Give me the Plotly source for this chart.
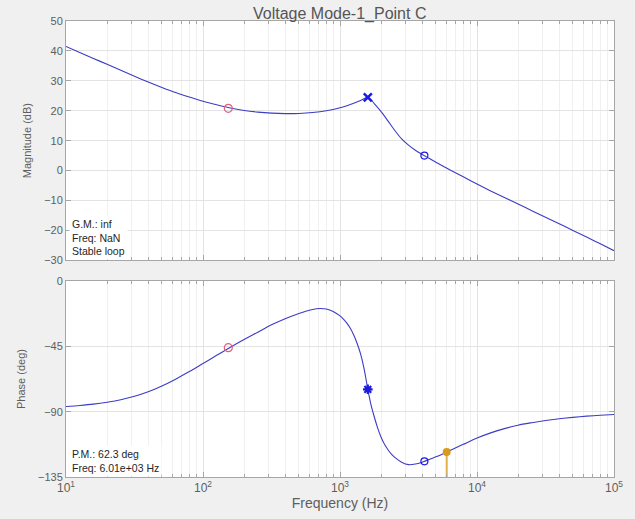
import plotly.graph_objects as go

# ---- data ----
mag_freq = [10, 12.59, 15.85, 19.95, 25.12, 31.62, 39.81, 50.12, 63.10, 79.43,
            100, 125.9, 158.5, 199.5, 251.2, 316.2, 398.1, 501.2, 631.0, 794.3,
            1000, 1122, 1259, 1413, 1596, 1778, 1995, 2239, 2512, 2818, 3162, 3548, 3981, 4467,
            5012, 5623, 6310, 7943, 10000, 12590, 15850, 19950, 25120, 31620, 39810, 50120,
            63100, 79430, 100000]
mag_db = [41.5, 39.5, 37.5, 35.5, 33.5, 31.5, 29.6, 27.8, 26.1, 24.6,
          23.2, 22.0, 20.9, 20.1, 19.55, 19.2, 19.05, 19.1, 19.4, 20.0,
          21.0, 21.7, 22.5, 23.4, 24.5, 22.4, 19.7, 16.6, 13.4, 10.6, 8.5, 6.8, 5.4, 4.1,
          2.8, 1.5, 0.3, -2.1, -4.5, -6.8, -9.0, -11.2, -13.4, -15.6, -17.8, -20.0,
          -22.2, -24.5, -26.8]

ph_freq = [10, 12.59, 15.85, 19.95, 25.12, 31.62, 39.81, 50.12, 63.10, 79.43,
           100, 125.9, 158.5, 199.5, 251.2, 316.2, 398.1, 501.2, 562.3, 631.0, 707.9, 794.3, 891.3,
           1000, 1059, 1122, 1189, 1259, 1334, 1413, 1496, 1596, 1679, 1778, 1884, 1995, 2113, 2239, 2371,
           2512, 2818, 3162, 3548, 3981, 4467, 5012, 5623, 6310, 7943,
           10000, 12590, 15850, 19950, 25120, 31620, 39810, 50120, 63100, 79430, 100000]
ph_deg = [-86.4, -85.7, -84.8, -83.5, -81.8, -79.4, -76.3, -72.3, -67.6, -62.4,
          -56.8, -51.2, -45.6, -40.3, -35.3, -30.2, -26.0, -22.4, -20.8, -19.6, -18.9, -19.3, -21.0,
          -24.0, -26.2, -29.0, -32.6, -37.2, -43.0, -50.2, -60.0, -74.6, -84.8, -93.5, -101.3, -107.6, -112.5, -116.2, -119.2,
          -121.5, -124.8, -126.5, -126.1, -124.8, -123.0, -121.1, -119.1, -116.9, -112.5,
          -108.2, -104.6, -101.7, -99.3, -97.6, -96.1, -94.9, -93.9, -93.1, -92.5, -92.0]

# markers
zero_f, zero_mag, zero_ph = 153, 20.8, -45.9
pole_f, pole_mag, pole_ph = 1596, 24.5, -74.6
circ_f, circ_mag, circ_ph = 4130, 5.0, -124.2
pm_f, pm_ph = 6010, -117.7

mag_ticks = [50, 40, 30, 20, 10, 0, -10, -20, -30]
ph_ticks = [0, -45, -90, -135]
x_ticks = [10, 100, 1000, 10000, 100000]
x_ticktext = ["10<sup>1</sup>", "10<sup>2</sup>", "10<sup>3</sup>", "10<sup>4</sup>", "10<sup>5</sup>"]
minor_vals = [m * d for d in [10, 100, 1000, 10000] for m in range(2, 10)]

title = "Voltage Mode-1_Point C"
gm_text = "G.M.: inf<br>Freq: NaN<br>Stable loop"
pm_text = "P.M.: 62.3 deg<br>Freq: 6.01e+03 Hz"

LINE = "#3c3cc6"
RED = "#e0607a"
BLUE = "#1a1ae0"
ORANGE = "#d99a1b"
STEM = "#e0b04a"
FONT = "Liberation Sans, Arial, sans-serif"
TXT = "#5e5e5e"

fig = go.Figure()

fig.add_trace(go.Scatter(x=mag_freq, y=mag_db, mode="lines",
                         line=dict(color=LINE, width=1.1, shape="spline", smoothing=0.8),
                         xaxis="x", yaxis="y", showlegend=False))
fig.add_trace(go.Scatter(x=ph_freq, y=ph_deg, mode="lines",
                         line=dict(color=LINE, width=1.1, shape="spline", smoothing=0.8),
                         xaxis="x2", yaxis="y2", showlegend=False))

# stem at phase margin
fig.add_trace(go.Scatter(x=[pm_f, pm_f], y=[pm_ph, -135], mode="lines",
                         line=dict(color=STEM, width=2), xaxis="x2", yaxis="y2", showlegend=False))

# magnitude markers
fig.add_trace(go.Scatter(x=[zero_f], y=[zero_mag], mode="markers",
                         marker=dict(symbol="circle-open", size=8, color=RED, line=dict(width=1.2)),
                         xaxis="x", yaxis="y", showlegend=False))
fig.add_trace(go.Scatter(x=[pole_f], y=[pole_mag], mode="markers",
                         marker=dict(symbol="x-thin-open", size=8, color=BLUE, line=dict(width=2.5, color=BLUE)),
                         xaxis="x", yaxis="y", showlegend=False))
fig.add_trace(go.Scatter(x=[circ_f], y=[circ_mag], mode="markers",
                         marker=dict(symbol="circle-open", size=7, color=BLUE, line=dict(width=1.2)),
                         xaxis="x", yaxis="y", showlegend=False))

# phase markers
fig.add_trace(go.Scatter(x=[zero_f], y=[zero_ph], mode="markers",
                         marker=dict(symbol="circle-open", size=8, color=RED, line=dict(width=1.2)),
                         xaxis="x2", yaxis="y2", showlegend=False))
fig.add_trace(go.Scatter(x=[pole_f], y=[pole_ph], mode="markers",
                         marker=dict(symbol="asterisk-open", size=8, color=BLUE, line=dict(width=2.2, color=BLUE)),
                         xaxis="x2", yaxis="y2", showlegend=False))
fig.add_trace(go.Scatter(x=[circ_f], y=[circ_ph], mode="markers",
                         marker=dict(symbol="circle-open", size=7, color=BLUE, line=dict(width=1.2)),
                         xaxis="x2", yaxis="y2", showlegend=False))
fig.add_trace(go.Scatter(x=[pm_f], y=[pm_ph], mode="markers",
                         marker=dict(symbol="circle", size=8, color=ORANGE),
                         xaxis="x2", yaxis="y2", showlegend=False))

axis_common = dict(
    showline=True, linecolor="#a6a6a6", linewidth=1, mirror="ticks",
    ticks="inside", ticklen=5, tickcolor="#a6a6a6",
    showgrid=True, gridcolor="#e3e3e3", gridwidth=1, zeroline=False,
    tickfont=dict(family=FONT, size=11, color=TXT),
)

xax = dict(axis_common, type="log", range=[1, 5], tickvals=x_ticks, ticktext=x_ticktext,
           tickfont=dict(family=FONT, size=12, color=TXT),
           minor=dict(tickvals=minor_vals, ticks="inside", ticklen=3, tickcolor="#a6a6a6",
                      showgrid=True, gridcolor="#f0f0f0"))

fig.update_layout(
    width=635, height=519,
    paper_bgcolor="#f0f0f0", plot_bgcolor="white",
    margin=dict(l=66, r=20, t=21, b=35),
    title=dict(text=title, x=0.535, xanchor="center", y=0.975, yanchor="middle",
               font=dict(family=FONT, size=16, color="#555555")),
    xaxis=dict(xax, domain=[0, 1], anchor="y", showticklabels=False),
    yaxis=dict(axis_common, domain=[0.4752, 1], anchor="x", range=[-30, 50],
               tickvals=mag_ticks,
               title=dict(text="Magnitude (dB)", standoff=10,
                          font=dict(family=FONT, size=11, color=TXT))),
    xaxis2=dict(xax, domain=[0, 1], anchor="y2",
                title=dict(text="Frequency (Hz)", standoff=2,
                           font=dict(family=FONT, size=14, color=TXT))),
    yaxis2=dict(axis_common, domain=[0, 0.4298], anchor="x2", range=[-135, 0],
                tickvals=ph_ticks,
                title=dict(text="Phase (deg)", standoff=10,
                           font=dict(family=FONT, size=11, color=TXT))),
    showlegend=False,
)

fig.add_annotation(text=gm_text, xref="x domain", yref="y domain", x=0.005, y=0.0,
                   xanchor="left", yanchor="bottom", showarrow=False, align="left",
                   bgcolor="white", borderpad=2,
                   font=dict(family=FONT, size=10.5, color="#262626"))
fig.add_annotation(text=pm_text, xref="x2 domain", yref="y2 domain", x=0.005, y=0.0,
                   xanchor="left", yanchor="bottom", showarrow=False, align="left",
                   bgcolor="white", borderpad=2,
                   font=dict(family=FONT, size=10.5, color="#262626"))

fig.write_html("out.html",
               config={"displayModeBar": False},
               post_script="document.body.style.margin='0px';"
                           "document.body.style.background='#f0f0f0';"
                           "document.body.style.overflow='hidden';")
